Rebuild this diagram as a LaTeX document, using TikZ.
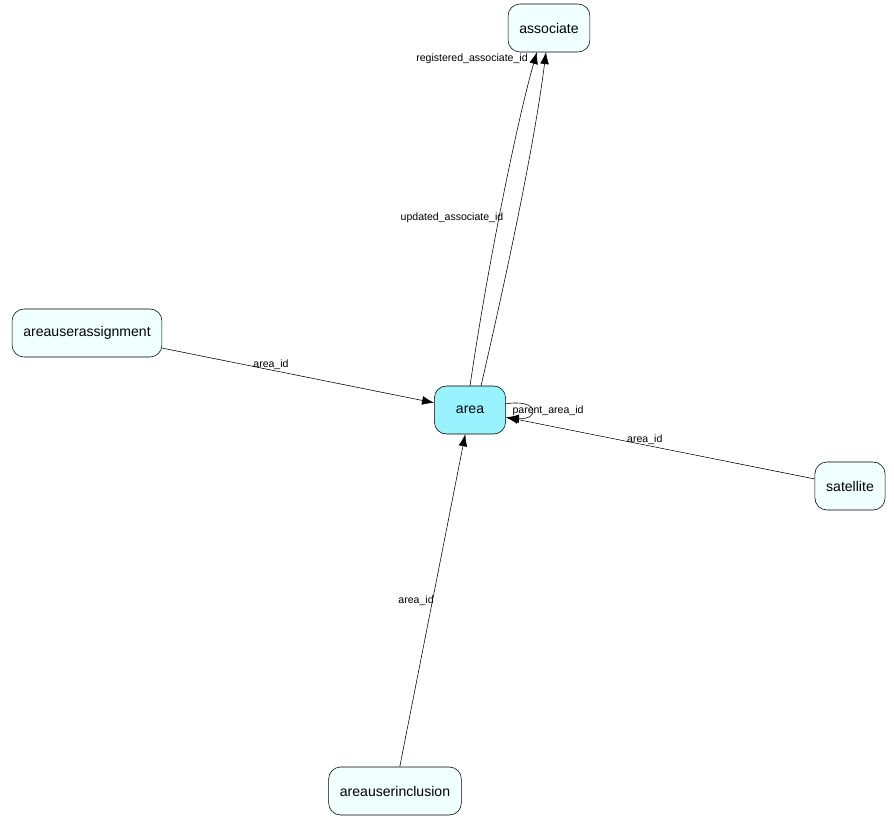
\documentclass[tikz,border=0pt]{standalone}
\usepackage{fontspec}
\setmainfont{Liberation Sans}
\usetikzlibrary{arrows.meta}
\definecolor{tablefill}{HTML}{F0FFFF}
\definecolor{focusfill}{HTML}{99F3FF}
\begin{document}
\begin{tikzpicture}[x=0.025cm, y=-0.025cm, font=\fontsize{10}{12}\selectfont, -{Latex[length=3mm,width=2.2mm]}]
	\tikzset{table/.style={draw, rounded corners=3mm, fill=tablefill, minimum height=1.2cm, inner xsep=8pt},
	  fk/.style={font=\fontsize{7.5}{9}\selectfont, fill=none, inner sep=1pt}}
	\useasboundingbox (0,0) rectangle (894,821);
	\node[table] (associate) at (549,28) {associate};
	\node[table, fill=focusfill, minimum width=1.78cm] (area) at (470,410) {area};
	\node[table] (areauserassignment) at (87,333) {areauserassignment};
	\node[table] (satellite) at (850,486) {satellite};
	\node[table] (areauserinclusion) at (395,791) {areauserinclusion};
	\draw (470,386) .. controls (490,250) and (520,110) .. (537,52);
	\draw (481,386) .. controls (510,260) and (535,140) .. (546,52);
	\node[fk] at (472,59) {registered\_associate\_id};
	\node[fk] at (452,218) {updated\_associate\_id};
	\draw (areauserassignment) -- (area) node[fk, pos=0.4, above=-1pt] {area\_id};
	\draw (satellite) -- (area) node[fk, pos=0.55, above=-1pt] {area\_id};
	\draw (areauserinclusion) -- (area) node[fk, pos=0.5, left=-2pt] {area\_id};
	\draw (505,404) .. controls (540,398) and (540,420) .. (507,418);
	\node[fk] at (548,411) {parent\_area\_id};
\end{tikzpicture}
\end{document}
